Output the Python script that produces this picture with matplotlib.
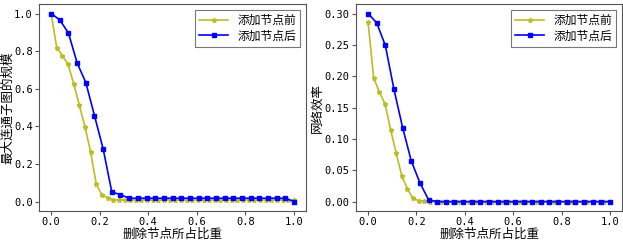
import numpy as np
import matplotlib.pyplot as plt

plt.rcParams['font.family'] = ['Noto Sans CJK SC', 'DejaVu Sans']
plt.rcParams['axes.unicode_minus'] = False

# 删除节点比例
x_before = np.linspace(0, 1, 44)
x_after = np.linspace(0, 1, 29)

# 最大连通子图的规模
size_before_head = [1.0, 0.818, 0.776, 0.730, 0.626, 0.511, 0.397, 0.263,
                    0.092, 0.035, 0.021, 0.010]
size_before = size_before_head + [0.009] * (44 - len(size_before_head))
size_after_head = [1.0, 0.966, 0.896, 0.737, 0.633, 0.457, 0.280, 0.051, 0.037]
size_after = size_after_head + [0.018] * (29 - len(size_after_head) - 1) + [0.0]

# 网络效率
eff_before_head = [0.286, 0.197, 0.175, 0.156, 0.115, 0.077, 0.041, 0.020,
                   0.005, 0.0016, 0.0005]
eff_before = eff_before_head + [0.0] * (44 - len(eff_before_head))
eff_after_head = [0.300, 0.285, 0.249, 0.179, 0.118, 0.065, 0.030, 0.003]
eff_after = eff_after_head + [0.0] * (29 - len(eff_after_head))

labels = ['添加节点前', '添加节点后']
xlabel = '删除节点所占比重'
ylabels = ['最大连通子图的规模', '网络效率']

fig = plt.figure(figsize=(6.23, 2.42), dpi=100)
ax1 = fig.add_axes([0.0626, 0.128, 0.4286, 0.855])
ax2 = fig.add_axes([0.5714, 0.128, 0.427, 0.855])

for ax, yb, ya, yl in [(ax1, size_before, size_after, ylabels[0]),
                       (ax2, eff_before, eff_after, ylabels[1])]:
    ax.plot(x_before, yb, color='#bcbd22', marker='*', markersize=3.5,
            linewidth=1.2, label=labels[0])
    ax.plot(x_after, ya, color='blue', marker='s', markersize=3.5,
            linewidth=1.2, label=labels[1])
    ax.set_xlabel(xlabel, fontsize=9, fontweight='medium', labelpad=0)
    ax.set_ylabel(yl, fontsize=9, fontweight='medium')
    ax.set_xticks([0, 0.2, 0.4, 0.6, 0.8, 1.0])
    ax.tick_params(labelsize=7.5, length=3, color='#555555', pad=1.5)
    for s in ax.spines.values():
        s.set_color('#555555')
    leg = ax.legend(loc='upper right', prop={'size': 8.5, 'weight': 'medium'},
                    fancybox=False, edgecolor='#555555', handlelength=2.4,
                    borderaxespad=0.5, labelspacing=0.2, borderpad=0.35)
    leg.get_frame().set_linewidth(0.8)

ax1.yaxis.set_label_coords(-0.094, 0.5)
ax2.yaxis.set_label_coords(-0.12, 0.5)

ax1.set_yticks([0, 0.2, 0.4, 0.6, 0.8, 1.0])
ax2.set_yticks([0, 0.05, 0.10, 0.15, 0.20, 0.25, 0.30])
ax2.set_yticklabels(['0.00', '0.05', '0.10', '0.15', '0.20', '0.25', '0.30'])
for ax in (ax1, ax2):
    for lab in ax.get_xticklabels() + ax.get_yticklabels():
        lab.set_fontfamily('DejaVu Sans Mono')

plt.savefig('out.png', dpi=100)
